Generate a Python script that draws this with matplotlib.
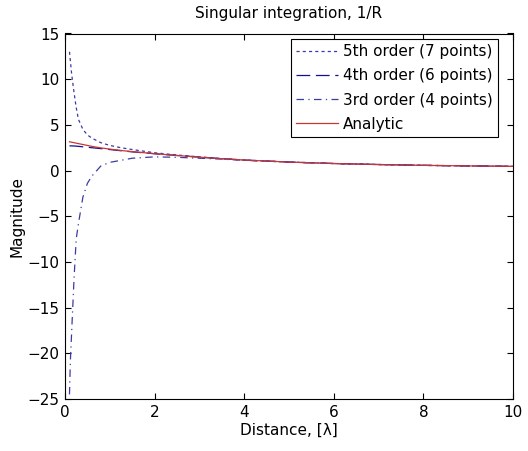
import matplotlib
matplotlib.use("Agg")
import matplotlib.pyplot as plt

# Data
distance = [0.1, 0.12, 0.15, 0.2, 0.25, 0.3, 0.4, 0.5, 0.6, 0.8, 1.0, 1.25, 1.5,
            2.0, 2.5, 3.0, 3.5, 4.0, 5.0, 6.0, 7.0, 8.0, 9.0, 10.0]
analytic = [3.15, 3.13, 3.1, 3.05, 3.0, 2.95, 2.85, 2.75, 2.65, 2.48, 2.35, 2.2, 2.07,
            1.85, 1.65, 1.47, 1.3, 1.15, 0.93, 0.77, 0.66, 0.57, 0.51, 0.46]
order5 = [13.0, 12.0, 10.5, 8.6, 6.9, 5.6, 4.5, 3.9, 3.55, 3.05, 2.75, 2.5, 2.3,
          1.95, 1.7, 1.5, 1.31, 1.15, 0.93, 0.77, 0.66, 0.57, 0.51, 0.46]
order4 = [2.7, 2.7, 2.7, 2.69, 2.67, 2.65, 2.6, 2.55, 2.5, 2.4, 2.3, 2.17, 2.05,
          1.84, 1.65, 1.47, 1.3, 1.15, 0.93, 0.77, 0.66, 0.57, 0.51, 0.46]
order3 = [-24.5, -20.8, -17.5, -12.0, -7.5, -5.8, -2.9, -1.4, -0.6, 0.5, 0.9, 1.12, 1.35,
          1.5, 1.45, 1.35, 1.25, 1.12, 0.93, 0.77, 0.66, 0.57, 0.51, 0.46]

labels = ["5th order (7 points)", "4th order (6 points)", "3rd order (4 points)", "Analytic"]
xticks = [0, 2, 4, 6, 8, 10]
yticks = [-25, -20, -15, -10, -5, 0, 5, 10, 15]

plt.rcParams['font.family'] = ['DejaVu Sans']
plt.rcParams['font.size'] = 11

fig = plt.figure(figsize=(5.28, 4.51), dpi=100)
ax = fig.add_axes([65/528, 1-399/451, 448/528, 365.5/451])

lw = 0.9
ax.plot(distance, order5, color='#3a3aa8', lw=lw, linestyle=(0, (2.5, 2.5)), label=labels[0])
ax.plot(distance, order4, color='#101090', lw=lw, linestyle=(0, (11, 4.5)), label=labels[1])
ax.plot(distance, order3, color='#3c3ca0', lw=lw, linestyle=(0, (6, 3.5, 1, 3.5)), label=labels[2])
ax.plot(distance, analytic, color='#c83535', lw=lw, linestyle='-', label=labels[3])

ax.set_xlim(0, 10)
ax.set_ylim(-25, 15)
ax.set_xticks(xticks)
ax.set_yticks(yticks)
ax.tick_params(direction='in', length=4.3, width=0.8, top=True, right=True, pad=4)
for s in ax.spines.values():
    s.set_linewidth(0.8)

ax.set_title("Singular integration, 1/R", fontsize=11, pad=11)
ax.set_xlabel("Distance, [λ]", fontsize=11, labelpad=2)
ax.set_ylabel("Magnitude", fontsize=11, labelpad=2)

leg = ax.legend(loc='upper left', bbox_to_anchor=(0.504, 0.985), fancybox=False,
                edgecolor='black', framealpha=1, handlelength=2.75, handletextpad=0.3,
                labelspacing=0.6, borderpad=0.35, borderaxespad=0, fontsize=11)
leg.get_frame().set_linewidth(0.8)

fig.savefig("out.png", dpi=100)
